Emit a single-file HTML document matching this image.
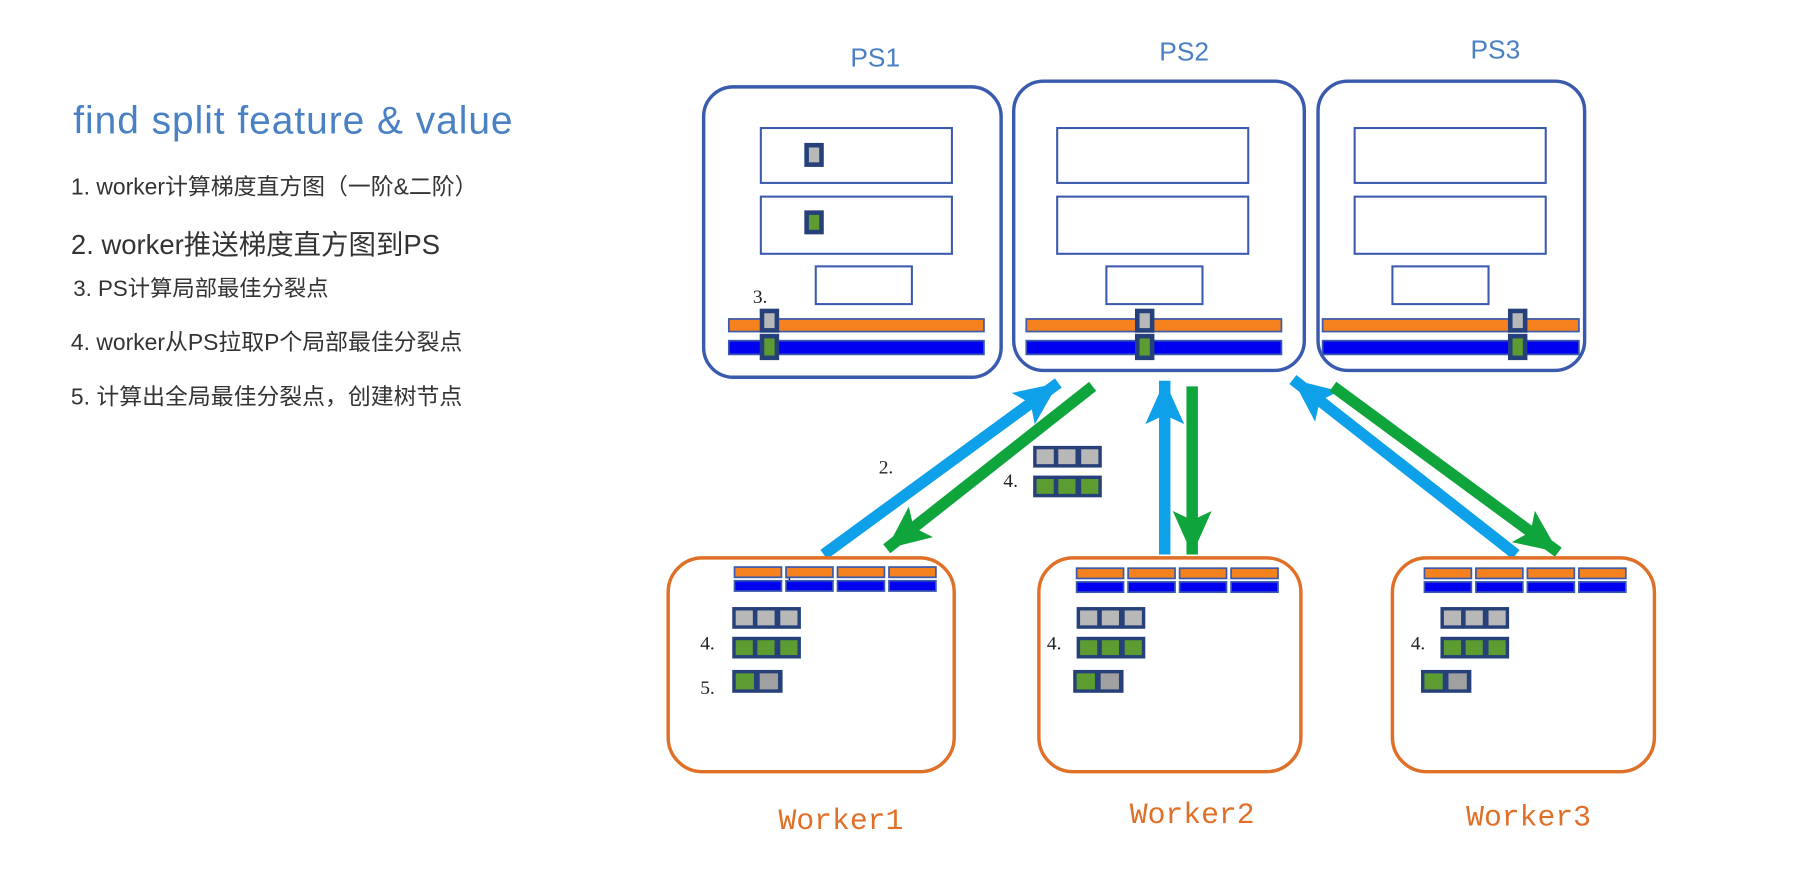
<!DOCTYPE html>
<html><head><meta charset="utf-8"><style>
html,body{margin:0;padding:0;background:#fff;}
svg{display:block;}
</style></head><body>
<svg width="1794" height="870" viewBox="0 0 1568 761" preserveAspectRatio="none" xmlns="http://www.w3.org/2000/svg">
<defs>
<marker id="hb" markerUnits="userSpaceOnUse" markerWidth="50" markerHeight="50" refX="38" refY="17" orient="auto"><path d="M0,0 L38,17 L0,34 L8,17 Z" fill="#0ea0e8"/></marker>
<marker id="hg" markerUnits="userSpaceOnUse" markerWidth="50" markerHeight="50" refX="38" refY="17" orient="auto"><path d="M0,0 L38,17 L0,34 L8,17 Z" fill="#10a43c"/></marker>
<g id="tg"><rect x="0" y="0" width="60" height="19" fill="#26407a"/><rect x="3" y="3" width="15" height="13" fill="#b8b8b8"/><rect x="22" y="3" width="15" height="13" fill="#b8b8b8"/><rect x="42" y="3" width="15" height="13" fill="#b8b8b8"/></g>
<g id="tn"><rect x="0" y="0" width="60" height="19" fill="#26407a"/><rect x="3" y="3" width="15" height="13" fill="#5c9c30"/><rect x="22" y="3" width="15" height="13" fill="#5c9c30"/><rect x="42" y="3" width="15" height="13" fill="#5c9c30"/></g>
<g id="pr"><rect x="0" y="0" width="44" height="20" fill="#26407a"/><rect x="3" y="3" width="16" height="14" fill="#5c9c30"/><rect x="24" y="3" width="16" height="14" fill="#a0a0a0"/></g>
<g id="sb"><rect x="0" y="0" width="41" height="9" fill="#f5821f" stroke="#3a5aad" stroke-width="1.5"/><rect x="45" y="0" width="41" height="9" fill="#f5821f" stroke="#3a5aad" stroke-width="1.5"/><rect x="90" y="0" width="41" height="9" fill="#f5821f" stroke="#3a5aad" stroke-width="1.5"/><rect x="135" y="0" width="41" height="9" fill="#f5821f" stroke="#3a5aad" stroke-width="1.5"/>
<rect x="0" y="12" width="41" height="9" fill="#0000f0" stroke="#3a5aad" stroke-width="1.5"/><rect x="45" y="12" width="41" height="9" fill="#0000f0" stroke="#3a5aad" stroke-width="1.5"/><rect x="90" y="12" width="41" height="9" fill="#0000f0" stroke="#3a5aad" stroke-width="1.5"/><rect x="135" y="12" width="41" height="9" fill="#0000f0" stroke="#3a5aad" stroke-width="1.5"/></g>
<g id="hgr"><rect x="0" y="0" width="17" height="21" fill="#26407a"/><rect x="4" y="4" width="9" height="13" fill="#b8b8b8"/></g>
<g id="hgn"><rect x="0" y="0" width="17" height="23" fill="#26407a"/><rect x="4" y="4" width="9" height="15" fill="#5c9c30"/></g>
</defs>

<g font-family="'Liberation Sans','Noto Sans CJK SC',sans-serif" fill="#333">
<text x="64" y="117" font-size="34" fill="#4a80c4" textLength="384">find split feature &amp; value</text>
<text x="62" y="170" font-size="20">1. worker计算梯度直方图（一阶&amp;二阶）</text>
<text x="62" y="222" font-size="24">2. worker推送梯度直方图到PS</text>
<text x="64" y="259" font-size="19.5">3. PS计算局部最佳分裂点</text>
<text x="62" y="306" font-size="20">4. worker从PS拉取P个局部最佳分裂点</text>
<text x="62" y="354" font-size="20">5. 计算出全局最佳分裂点，创建树节点</text>
</g>

<g font-family="'Liberation Sans',sans-serif" font-size="23" fill="#4a80c4" text-anchor="middle">
<text x="765" y="58">PS1</text><text x="1035" y="53">PS2</text><text x="1307" y="51">PS3</text>
</g>

<g fill="none" stroke="#3a5aad" stroke-width="3">
<rect x="615" y="76" width="260" height="254" rx="26"/>
<rect x="886" y="71" width="254" height="253" rx="26"/>
<rect x="1152" y="71" width="233" height="253" rx="26"/>
<g stroke-width="1.8">
<rect x="665" y="112" width="167" height="48"/><rect x="665" y="172" width="167" height="50"/><rect x="713" y="233" width="84" height="33"/>
<rect x="924" y="112" width="167" height="48"/><rect x="924" y="172" width="167" height="50"/><rect x="967" y="233" width="84" height="33"/>
<rect x="1184" y="112" width="167" height="48"/><rect x="1184" y="172" width="167" height="50"/><rect x="1217" y="233" width="84" height="33"/>
</g></g>
<g stroke="#3a5aad" stroke-width="1.5">
<rect x="637" y="279" width="223" height="11" fill="#f5821f"/><rect x="637" y="298" width="223" height="12" fill="#0000f0"/>
<rect x="897" y="279" width="223" height="11" fill="#f5821f"/><rect x="897" y="298" width="223" height="12" fill="#0000f0"/>
<rect x="1156" y="279" width="224" height="11" fill="#f5821f"/><rect x="1156" y="298" width="224" height="12" fill="#0000f0"/>
</g>
<use href="#hgr" x="664" y="270"/><use href="#hgn" x="664" y="292"/>
<use href="#hgr" x="992" y="270"/><use href="#hgn" x="992" y="292"/>
<use href="#hgr" x="1318" y="270"/><use href="#hgn" x="1318" y="292"/>
<rect x="703" y="125" width="17" height="21" fill="#26407a"/><rect x="707" y="129" width="9" height="13" fill="#b8b8b8"/>
<rect x="703" y="184" width="17" height="21" fill="#26407a"/><rect x="707" y="188" width="9" height="13" fill="#5c9c30"/>

<g font-family="'Liberation Serif',serif" font-size="17" fill="#222">
<text x="658" y="265">3.</text>
<text x="768" y="414">2.</text>
<text x="877" y="426">4.</text>
<text x="612" y="568">4.</text><text x="612" y="607">5.</text>
<text x="915" y="568">4.</text>
<text x="1233" y="568">4.</text>
<text x="686" y="514" font-size="15">1.</text>
</g>

<g stroke-width="10" fill="none">
<line x1="720" y1="485" x2="925" y2="335" stroke="#0ea0e8" marker-end="url(#hb)"/>
<line x1="955" y1="338" x2="775" y2="480" stroke="#10a43c" marker-end="url(#hg)"/>
<line x1="1018" y1="485" x2="1018" y2="333" stroke="#0ea0e8" marker-end="url(#hb)"/>
<line x1="1042" y1="338" x2="1042" y2="485" stroke="#10a43c" marker-end="url(#hg)"/>
<line x1="1325" y1="485" x2="1130" y2="332" stroke="#0ea0e8" marker-end="url(#hb)"/>
<line x1="1165" y1="338" x2="1362" y2="483" stroke="#10a43c" marker-end="url(#hg)"/>
</g>

<use href="#tg" x="903" y="390"/><use href="#tn" x="903" y="416"/>

<g fill="none" stroke="#e07028" stroke-width="3">
<rect x="584" y="488" width="250" height="187" rx="30"/>
<rect x="908" y="488" width="229" height="187" rx="30"/>
<rect x="1217" y="488" width="229" height="187" rx="30"/>
</g>
<use href="#sb" x="642" y="496"/><use href="#sb" x="941" y="497"/><use href="#sb" x="1245" y="497"/>
<use href="#tg" x="640" y="531"/><use href="#tn" x="640" y="557"/><use href="#pr" x="640" y="586"/>
<use href="#tg" x="941" y="531"/><use href="#tn" x="941" y="557"/><use href="#pr" x="938" y="586"/>
<use href="#tg" x="1259" y="531"/><use href="#tn" x="1259" y="557"/><use href="#pr" x="1242" y="586"/>

<g font-family="'Liberation Mono',monospace" font-size="26" fill="#e07028" text-anchor="middle">
<text x="735" y="725">Worker1</text><text x="1042" y="720">Worker2</text><text x="1336" y="722">Worker3</text>
</g>
</svg>
</body></html>
